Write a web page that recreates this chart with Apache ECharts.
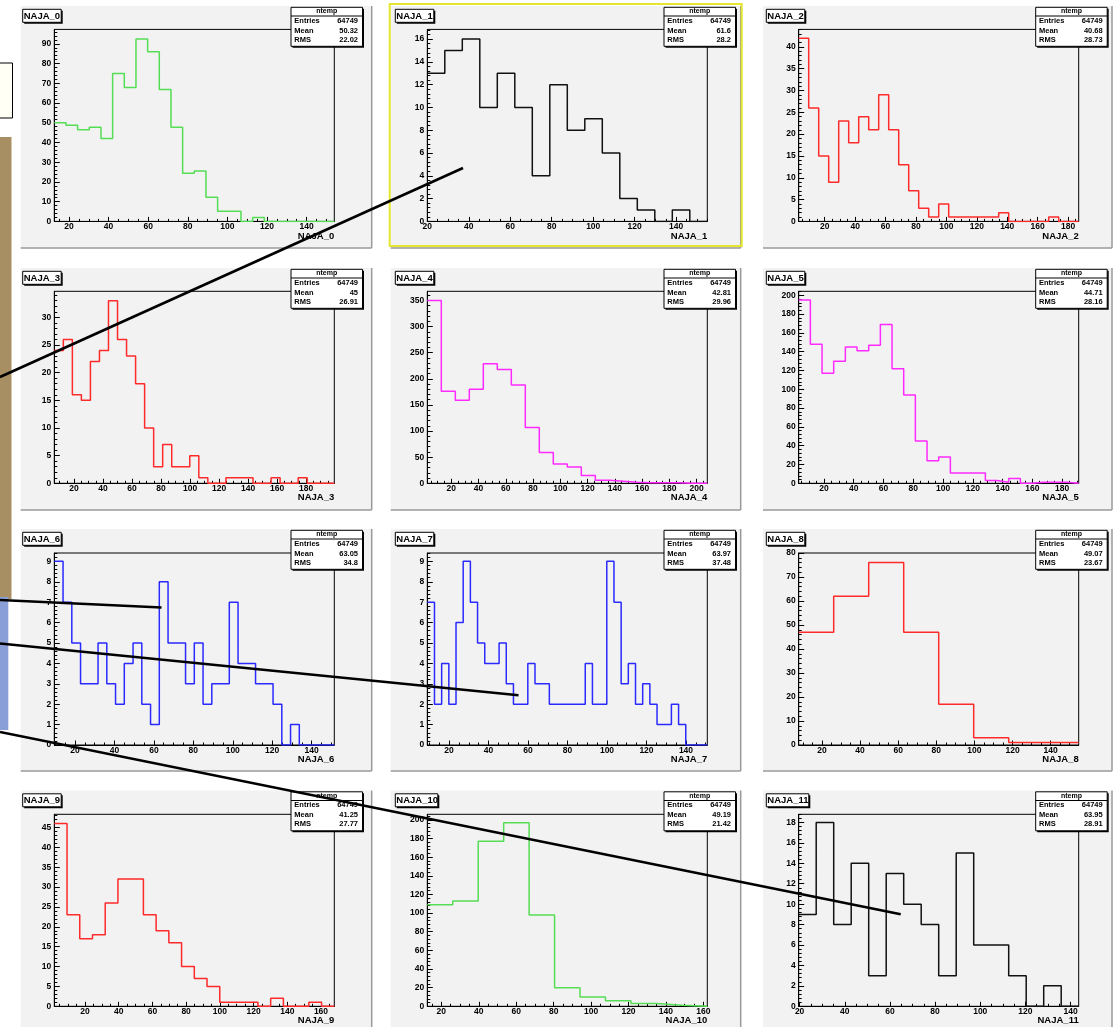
<!DOCTYPE html>
<html>
<head>
<meta charset="utf-8">
<title>NAJA histograms</title>
<script src="https://cdn.jsdelivr.net/npm/echarts@6.0.0/dist/echarts.min.js"></script>
<style>
  html, body { margin: 0; padding: 0; background: #fff; }
  #chart { width: 1114px; height: 1027px; }
</style>
</head>
<body>
<div id="chart"></div>
<script>
// histogram names and line colours
var names = ['NAJA_0', 'NAJA_1', 'NAJA_2', 'NAJA_3', 'NAJA_4', 'NAJA_5',
             'NAJA_6', 'NAJA_7', 'NAJA_8', 'NAJA_9', 'NAJA_10', 'NAJA_11'];
var lineColors = ['#55dd55', '#111111', '#ff2a2a', '#ff2a2a', '#ff2aff', '#ff2aff',
                  '#2a2aff', '#2a2aff', '#ff2a2a', '#ff2a2a', '#55dd55', '#111111'];

// axis ranges
var xMin = [12.6, 20, 2.9, 6.4, 2.4, 3, 9.5, 9, 7.8, 1.8, 12.5, 19.6];
var xMax = [154, 155, 187, 199.5, 207.8, 191.2, 151.5, 150.8, 154.7, 167.9, 162.1, 143.6];
var yMax = [97.3, 16.85, 44, 34.7, 367.5, 204.3, 9.41, 9.41, 80, 48.3, 206, 18.8];
var xStep = [20, 20, 20, 20, 20, 20, 20, 20, 20, 20, 20, 20];
var yStep = [10, 2, 5, 5, 50, 20, 1, 1, 10, 5, 20, 2];

// bin contents (equal-width bins spanning xMin..xMax)
var naja0 = [50, 48.7, 46.5, 47.7, 42, 75, 67.8, 92.4, 86, 66.8, 47.7, 24.4, 25.5, 12.2, 5.2, 5.2, 0, 2, 0, 0, 0, 0, 0, 0];
var naja1 = [13, 15, 16, 10, 13, 10, 4, 12, 8, 9, 6, 2, 1, 0, 1, 0];
var naja2 = [42, 26, 15, 9, 23, 18, 24, 21, 29, 21, 13, 7, 3, 1, 4, 1, 1, 1, 1, 1, 2, 0, 0, 0, 0, 1, 0, 0];
var naja3 = [24, 26, 16, 15, 22, 24, 33, 26, 23, 18, 10, 3, 7, 3, 3, 5, 1, 0, 0, 1, 1, 1, 0, 0, 1, 0, 0, 1, 0, 0, 0];
var naja4 = [350, 176, 159, 180, 229, 218, 188, 107, 59, 37, 31, 15, 6, 4, 2, 1, 1, 1, 0, 0];
var naja5 = [195, 148, 117, 130, 145, 141, 147, 169, 122, 94, 45, 24, 28, 11, 11, 11, 3, 1, 5, 0, 1, 1, 1, 0];
var naja6 = [9, 7, 5, 3, 3, 5, 3, 2, 4, 5, 2, 1, 8, 5, 5, 3, 5, 2, 3, 3, 7, 4, 4, 3, 3, 2, 0, 1, 0, 0, 0, 0];
var naja7 = [7, 2, 4, 2, 6, 9, 7, 5, 4, 4, 5, 3, 2, 2, 4, 3, 3, 2, 2, 2, 2, 2, 4, 2, 2, 9, 7, 3, 4, 2, 3, 2, 1, 1, 2, 1, 0, 0, 0];
var naja8 = [47, 62, 76, 47, 17, 3, 1, 1];
var naja9 = [46, 23, 17, 18, 26, 32, 32, 23, 19, 16, 10, 7, 5, 1, 1, 1, 0, 2, 0, 0, 1, 0];
var naja10 = [109, 113, 177, 197, 98, 20, 10, 6, 3, 1, 0];
var naja11 = [9, 18, 8, 14, 3, 13, 10, 8, 3, 15, 6, 6, 3, 0, 2, 0];
var counts = [naja0, naja1, naja2, naja3, naja4, naja5, naja6, naja7, naja8, naja9, naja10, naja11];

// stat box contents
var treeName = 'ntemp';
var entries = [64749, 64749, 64749, 64749, 64749, 64749, 64749, 64749, 64749, 64749, 64749, 64749];
var means = ['50.32', '61.6', '40.68', '45', '42.81', '44.71', '63.05', '63.97', '49.07', '41.25', '49.19', '63.95'];
var rmsValues = ['22.02', '28.2', '28.73', '26.91', '29.96', '28.16', '34.8', '37.48', '23.67', '27.77', '21.42', '28.91'];

// page layout (pixels)
var padLeft = [20.7, 390.7, 763];
var padWidth = [351, 350, 349];
var padTop = [6, 268, 529, 790.5];
var padHeight = 242;
var frameLeft = [54.3, 427.3, 798.7];
var frameWidth = 280;
var frameTop = [29.4, 291.3, 553, 814.3];
var frameHeight = 192;
var statLeft = [291, 664, 1035.7];
var titleLeft = [22.7, 395.3, 766.3];

var FONT = '"Liberation Sans", Arial, sans-serif';

// histogram outline built from the bins
function outline(lo, hi, vals) {
  var w = (hi - lo) / vals.length;
  var pts = [];
  vals.forEach(function (v, i) {
    pts.push([lo + i * w, v], [lo + (i + 1) * w, v]);
  });
  return pts;
}

function ticks(lo, hi, step) {
  var out = [];
  var k = Math.ceil(lo / step - 1e-9);
  for (var v = k * step; v <= hi + 1e-9; v = (++k) * step) out.push(+v.toFixed(6));
  return out;
}

function rect(x, y, w, h, style, z) {
  return { type: 'rect', silent: true, z: z, shape: { x: x, y: y, width: w, height: h }, style: style };
}
function text(x, y, str, size, align, z) {
  return {
    type: 'text', silent: true, z: z, x: x, y: y,
    style: { text: str, font: 'bold ' + size + 'px ' + FONT, fill: '#000',
             align: align, verticalAlign: 'middle', textAlign: align, textVerticalAlign: 'middle' }
  };
}
function seg(x1, y1, x2, y2, color, w, z) {
  return { type: 'line', silent: true, z: z, shape: { x1: x1, y1: y1, x2: x2, y2: y2 },
           style: { stroke: color, lineWidth: w } };
}

var grids = [], xAxes = [], yAxes = [], series = [], elements = [];
var labelStyle = { fontSize: 8.5, fontWeight: 'bold', fontFamily: FONT, color: '#000' };

// slide remnants on the left edge
elements.push(rect(0, 137, 11.5, 462, { fill: '#a88f63' }, -2));
elements.push(rect(0, 597, 8.3, 133, { fill: '#8a9fd7' }, -2));
elements.push(rect(-2, 63, 14.5, 55, { fill: '#fffff6', stroke: '#000', lineWidth: 1 }, -2));

names.forEach(function (name, i) {
  var col = i % 3, row = Math.floor(i / 3);

  // pad with bevel
  elements.push(rect(padLeft[col], padTop[row], padWidth[col], padHeight, { fill: '#f2f2f2' }, -1));
  elements.push(seg(padLeft[col] + padWidth[col], padTop[row], padLeft[col] + padWidth[col], padTop[row] + padHeight, '#9a9a9a', 1.5, -1));
  elements.push(seg(padLeft[col], padTop[row] + padHeight, padLeft[col] + padWidth[col], padTop[row] + padHeight, '#9a9a9a', 1.5, -1));
  if (i === 1) {
    elements.push(rect(padLeft[col] - 1, padTop[row] - 2, padWidth[col] + 2, padHeight, { fill: 'none', stroke: '#e6e62e', lineWidth: 2 }, 40));
  }

  grids.push({
    left: frameLeft[col], top: frameTop[row], width: frameWidth, height: frameHeight,
    show: true, backgroundColor: '#f2f2f2', borderColor: '#000', borderWidth: 1,
    containLabel: false, outerBoundsMode: 'none'
  });

  var xl = ticks(xMin[i], xMax[i], xStep[i]);
  var xm = ticks(xMin[i], xMax[i], xStep[i] / 4);
  var yl = ticks(0, yMax[i], yStep[i]);
  var ym = ticks(0, yMax[i], yStep[i] / 5);

  xAxes.push({
    type: 'value', gridIndex: i, position: 'bottom', min: xMin[i], max: xMax[i], z: 3,
    axisLine: { show: true, onZero: false, lineStyle: { color: '#000', width: 1 } },
    axisTick: { show: true, inside: true, length: 4.5, customValues: xl, lineStyle: { color: '#000' } },
    axisLabel: Object.assign({ customValues: xl, margin: 1 }, labelStyle),
    splitLine: { show: false }
  });
  xAxes.push({
    type: 'value', gridIndex: i, position: 'bottom', min: xMin[i], max: xMax[i], z: 3,
    axisLine: { show: false },
    axisTick: { show: true, inside: true, length: 2.5, customValues: xm, lineStyle: { color: '#000' } },
    axisLabel: { show: false }, splitLine: { show: false }
  });
  yAxes.push({
    type: 'value', gridIndex: i, position: 'left', min: 0, max: yMax[i], z: 3,
    axisLine: { show: true, onZero: false, lineStyle: { color: '#000', width: 1 } },
    axisTick: { show: true, inside: true, length: 5.5, customValues: yl, lineStyle: { color: '#000' } },
    axisLabel: Object.assign({ customValues: yl, margin: 3 }, labelStyle),
    splitLine: { show: false }
  });
  yAxes.push({
    type: 'value', gridIndex: i, position: 'left', min: 0, max: yMax[i], z: 3,
    axisLine: { show: false },
    axisTick: { show: true, inside: true, length: 3, customValues: ym, lineStyle: { color: '#000' } },
    axisLabel: { show: false }, splitLine: { show: false }
  });

  series.push({
    name: name, type: 'line', xAxisIndex: 2 * i, yAxisIndex: 2 * i,
    data: outline(xMin[i], xMax[i], counts[i]),
    showSymbol: false, symbol: 'none', silent: true, clip: true,
    lineStyle: { color: lineColors[i], width: 1.5 }
  });

  // title box
  var tx = titleLeft[col], ty = padTop[row] + 3.3;
  var tw = name.length > 6 ? 42.5 : 38.5;
  elements.push(rect(tx + 1.5, ty + 1.5, tw, 13, { fill: '#000' }, 48));
  elements.push(rect(tx, ty, tw, 13, { fill: '#fff', stroke: '#000', lineWidth: 1 }, 49));
  elements.push(text(tx + 1, ty + 6.8, name, 9.5, 'left', 50));

  // stat box
  var sx = statLeft[col], sy = padTop[row] + 1.3, sw = 71.5, sh = 39;
  elements.push(rect(sx + 1.5, sy + 1.5, sw, sh, { fill: '#000' }, 48));
  elements.push(rect(sx, sy, sw, sh, { fill: '#fff', stroke: '#000', lineWidth: 1 }, 49));
  elements.push(seg(sx, sy + 8.7, sx + sw, sy + 8.7, '#000', 1, 50));
  elements.push(text(sx + sw / 2, sy + 4.2, treeName, 7, 'center', 50));
  elements.push(text(sx + 3.3, sy + 13.6, 'Entries', 7.5, 'left', 50));
  elements.push(text(sx + sw - 4.5, sy + 13.6, String(entries[i]), 7.5, 'right', 50));
  elements.push(text(sx + 3.3, sy + 23.6, 'Mean', 7.5, 'left', 50));
  elements.push(text(sx + sw - 4.5, sy + 23.6, means[i], 7.5, 'right', 50));
  elements.push(text(sx + 3.3, sy + 32.6, 'RMS', 7.5, 'left', 50));
  elements.push(text(sx + sw - 4.5, sy + 32.6, rmsValues[i], 7.5, 'right', 50));

  // x axis title
  elements.push(text(frameLeft[col] + frameWidth, frameTop[row] + frameHeight + 14.5, name, 9.5, 'right', 50));
});

// hand-drawn annotation strokes over the canvas
elements.push(seg(0, 377, 463, 168, '#000', 2.6, 100));
elements.push(seg(0, 600, 161.5, 607.5, '#000', 2.6, 100));
elements.push(seg(0, 643.5, 518.5, 695.3, '#000', 2.6, 100));
elements.push(seg(0, 732, 900.7, 914.3, '#000', 2.6, 100));

var myChart = echarts.init(document.getElementById('chart'));
myChart.setOption({
  animation: false,
  backgroundColor: '#ffffff',
  grid: grids,
  xAxis: xAxes,
  yAxis: yAxes,
  series: series,
  graphic: { elements: elements }
});
</script>
</body>
</html>
